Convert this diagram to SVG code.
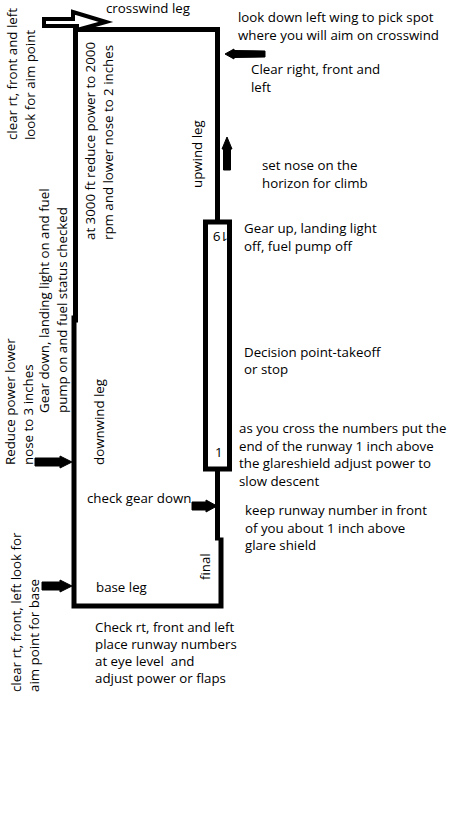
<svg xmlns="http://www.w3.org/2000/svg" width="460" height="819" viewBox="0 0 460 819">
<style>
  text { font-family: "Open Sans", "Liberation Sans", sans-serif; font-size: 13.3px; fill: #000; white-space: pre; }
  .line { fill: none; stroke: #000; stroke-width: 5; stroke-linecap: square; }
  .arr { fill: #000; stroke: #000; stroke-width: 1; stroke-linejoin: round; }
  .outline { fill: #fff; stroke: #000; stroke-width: 4; stroke-linejoin: miter; }
</style>
<rect width="460" height="819" fill="#fff"/>

<g id="connectors">
  <path class="line" d="M75.5 320 L75.5 29.5 L217.5 29.5 L217.5 220"/>
  <path class="line" d="M74 318 L74 606 L221 606 L221 540"/>
  <path class="line" d="M217.5 470 L217.5 538"/>
  <path class="outline" d="M44 19 L73 19 L73 12 L106 22 L77 30 L77 26 L44 26 Z"/>
  <path class="arr" d="M225,54 L234,49 L234,50.5 L265,51 L265,57 L234,57.5 L234,59 Z"/>
  <path class="arr" d="M227,137 L232,149 L230.5,149 L230.5,170 L223.5,170 L223.5,149 L222,149 Z"/>
  <path class="arr" d="M35,458 L60,458 L60,456 L72,462 L60,468 L60,466 L35,466 Z"/>
  <path class="arr" d="M192,502 L206,502 L206,500 L217,506 L206,512 L206,510 L192,510 Z"/>
  <path class="arr" d="M42,582 L60,582 L60,580 L72,586 L60,592 L60,590 L42,590 Z"/>
</g>

<g id="runway">
  <text transform="translate(228,232) rotate(180)" font-size="12.5">19</text>
  <text x="215" y="457" font-size="12.5">1</text>
  <rect x="205.5" y="222" width="24" height="247" fill="none" stroke="#000" stroke-width="5"/>
</g>

<g id="crosswind">
  <text x="106" y="13">crosswind leg</text>
</g>
<g id="look-down">
  <text x="238" y="21.5">look down left wing to pick spot</text>
  <text x="238" y="39.5">where you will aim on crosswind</text>
</g>
<g id="clear-right">
  <text x="251" y="74">Clear right, front and</text>
  <text x="251" y="92">left</text>
</g>
<g id="set-nose">
  <text x="262" y="170">set nose on the</text>
  <text x="262" y="188">horizon for climb</text>
</g>
<g id="gear-up">
  <text x="244" y="233">Gear up, landing light</text>
  <text x="244" y="251">off, fuel pump off</text>
</g>
<g id="decision">
  <text x="244" y="357">Decision point-takeoff</text>
  <text x="244" y="374">or stop</text>
</g>
<g id="cross-numbers">
  <text x="239" y="433">as you cross the numbers put the</text>
  <text x="239" y="451">end of the runway 1 inch above</text>
  <text x="239" y="468">the glareshield adjust power to</text>
  <text x="239" y="486">slow descent</text>
</g>
<g id="keep-runway">
  <text x="245" y="515">keep runway number in front</text>
  <text x="245" y="533">of you about 1 inch above</text>
  <text x="245" y="550">glare shield</text>
</g>
<g id="check-gear">
  <text x="87" y="503">check gear down</text>
</g>
<g id="base-leg">
  <text x="96" y="592">base leg</text>
</g>
<g id="final">
  <text transform="translate(210,580) rotate(-90)">final</text>
</g>
<g id="check-rt">
  <text x="95" y="632">Check rt, front and left</text>
  <text x="95" y="649">place runway numbers</text>
  <text x="95" y="666" xml:space="preserve">at eye level  and</text>
  <text x="95" y="683">adjust power or flaps</text>
</g>

<g id="upwind">
  <text transform="translate(202,188) rotate(-90)">upwind leg</text>
</g>
<g id="downwind">
  <text transform="translate(104,465) rotate(-90)">downwind leg</text>
</g>
<g id="at-3000">
  <text transform="translate(95,240) rotate(-90)">at 3000 ft reduce power to 2000</text>
  <text transform="translate(113,240) rotate(-90)">rpm and lower nose to 2 inches</text>
</g>
<g id="clear-aim">
  <text transform="translate(17,140) rotate(-90)">clear rt, front and left</text>
  <text transform="translate(35,140) rotate(-90)">look for aim point</text>
</g>
<g id="gear-down">
  <text transform="translate(49,413) rotate(-90)">Gear down, landing light on and fuel</text>
  <text transform="translate(67,413) rotate(-90)">pump on and fuel status checked</text>
</g>
<g id="reduce-power">
  <text transform="translate(15,465) rotate(-90)">Reduce power lower</text>
  <text transform="translate(33,465) rotate(-90)">nose to 3 inches</text>
</g>
<g id="clear-base">
  <text transform="translate(21,692) rotate(-90)">clear rt, front, left look for</text>
  <text transform="translate(39,692) rotate(-90)">aim point for base</text>
</g>
</svg>
